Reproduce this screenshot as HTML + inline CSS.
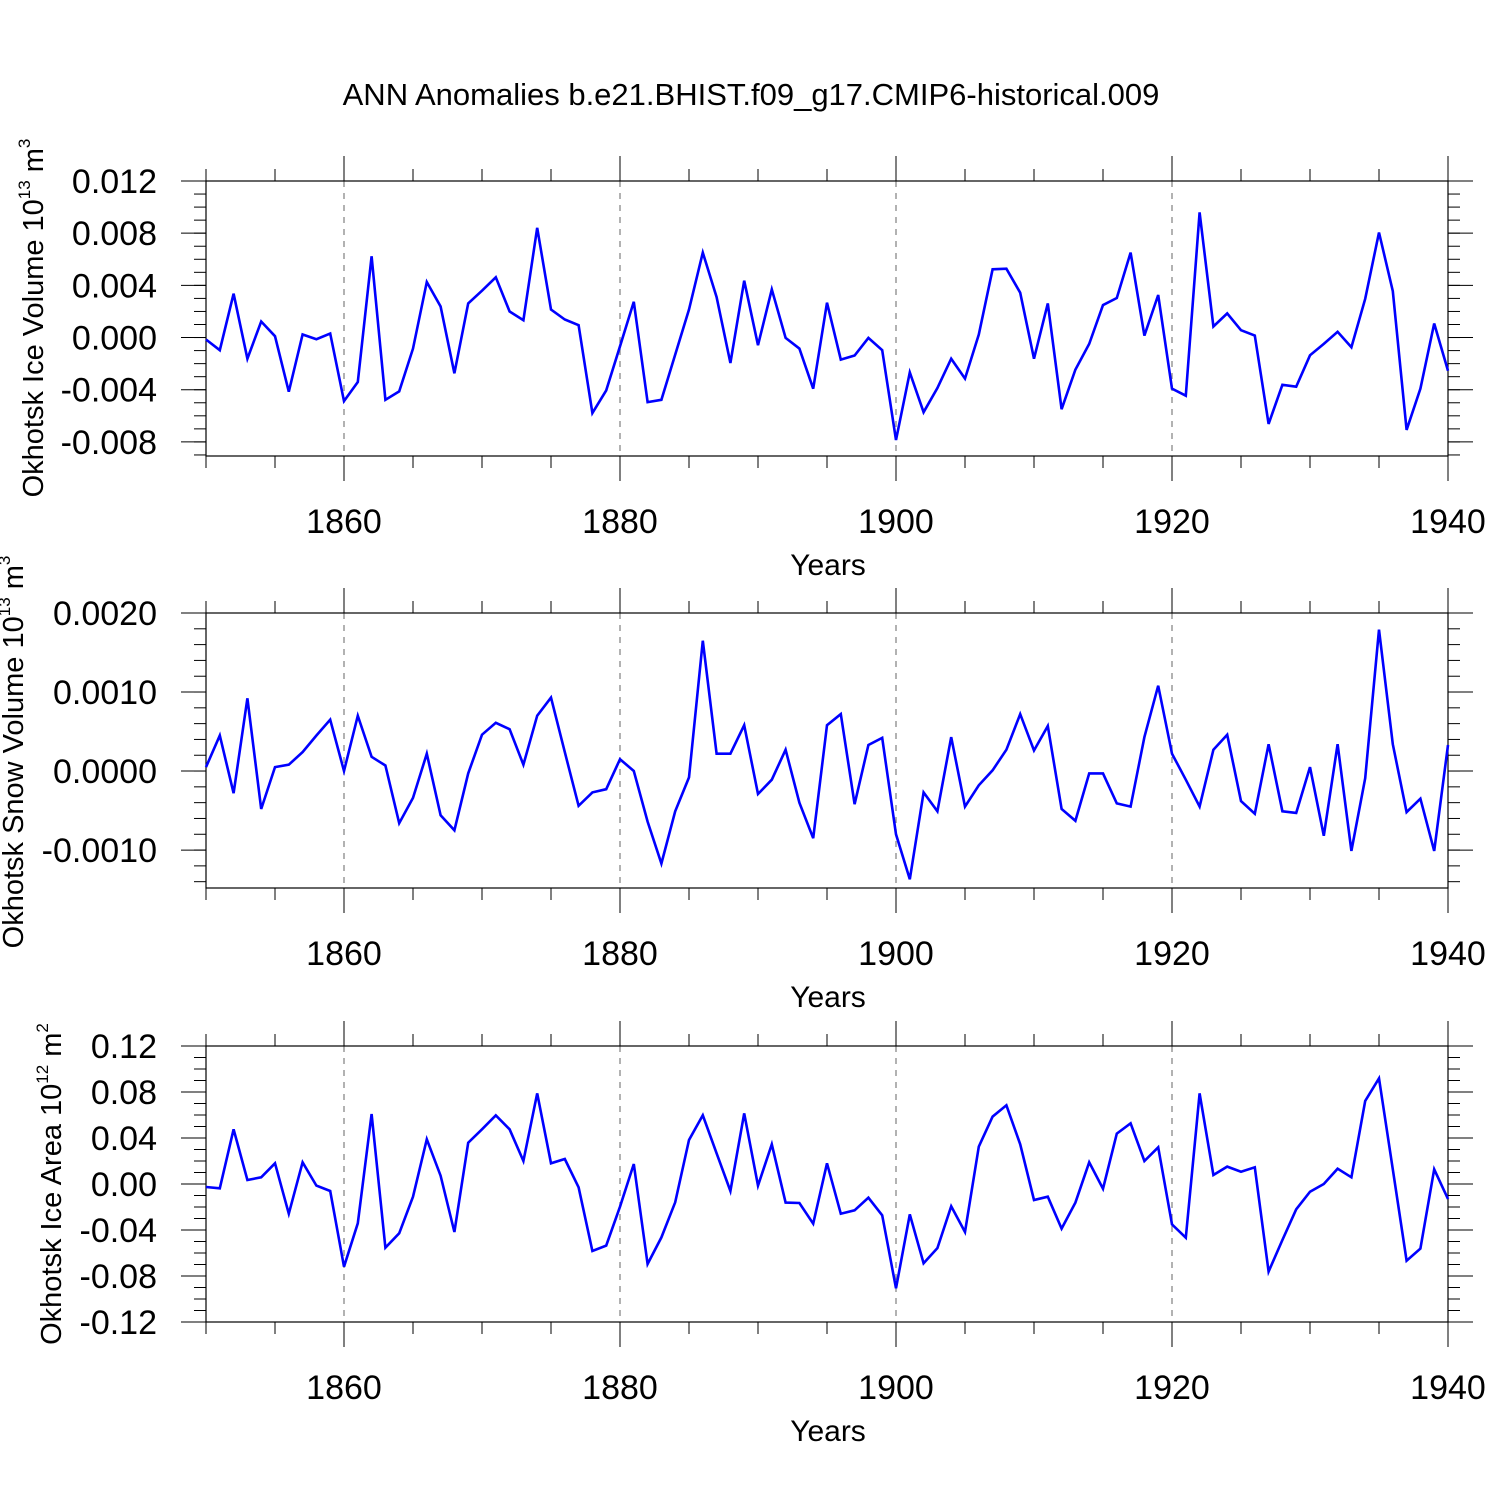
<!DOCTYPE html>
<html><head><meta charset="utf-8"><style>
html,body{margin:0;padding:0;background:#fff;}
svg{display:block;font-family:"Liberation Sans",Arial,sans-serif;}
</style></head><body>
<svg id="chart" width="1500" height="1500" viewBox="0 0 1500 1500" xmlns="http://www.w3.org/2000/svg">
<rect width="1500" height="1500" fill="#fff"/>
<text x="751" y="105" font-size="31" text-anchor="middle">ANN Anomalies b.e21.BHIST.f09_g17.CMIP6-historical.009</text>
<g id="plots"></g>
</svg>
<script>
const years = [];
for (let y = 1850; y <= 1940; y++) years.push(y);
const iceVolume = [-0.15,-0.97,3.36,-1.62,1.23,0.1,-4.15,0.23,-0.13,0.31,
-4.87,-3.41,6.23,-4.77,-4.13,-0.85,4.26,2.38,-2.74,2.62,
3.59,4.62,2.0,1.33,8.41,2.15,1.38,0.95,-5.79,-4.05,
-0.67,2.74,-4.95,-4.77,-1.31,2.15,6.51,3.1,-1.95,4.36,
-0.59,3.69,-0.03,-0.85,-3.92,2.67,-1.69,-1.38,-0.03,-0.97,
-7.85,-2.67,-5.72,-3.87,-1.62,-3.15,0.23,5.23,5.28,3.44,
-1.62,2.62,-5.49,-2.46,-0.49,2.49,3.03,6.51,0.15,3.26,
-3.92,-4.46,9.59,0.85,1.85,0.56,0.15,-6.62,-3.62,-3.77,
-1.36,-0.49,0.44,-0.74,2.97,8.05,3.56,-7.08,-3.92,1.08,-2.54].map(v=>v*0.001);
const snowVolume = [0.05,0.45,-0.28,0.92,-0.48,0.05,0.08,0.24,0.45,0.65,
0.0,0.7,0.18,0.07,-0.66,-0.34,0.22,-0.56,-0.75,-0.03,
0.46,0.61,0.53,0.08,0.7,0.93,0.24,-0.44,-0.27,-0.23,
0.15,0.0,-0.64,-1.17,-0.51,-0.08,1.65,0.22,0.22,0.58,
-0.29,-0.11,0.27,-0.4,-0.85,0.58,0.72,-0.42,0.33,0.42,
-0.8,-1.37,-0.27,-0.51,0.43,-0.45,-0.18,0.01,0.27,0.72,
0.26,0.57,-0.48,-0.63,-0.03,-0.03,-0.41,-0.45,0.43,1.08,
0.22,-0.11,-0.45,0.27,0.46,-0.38,-0.54,0.34,-0.51,-0.53,
0.05,-0.82,0.34,-1.01,-0.09,1.79,0.34,-0.52,-0.35,-1.01,0.33].map(v=>v*0.001);
const iceArea = [-0.0026,-0.0037,0.0476,0.0035,0.0058,0.018,-0.0258,0.0189,-0.0014,-0.0061,
-0.0719,-0.0342,0.0609,-0.0554,-0.0429,-0.011,0.0389,0.0072,-0.0417,0.0359,
0.0476,0.0597,0.0476,0.02,0.0788,0.018,0.0217,-0.0029,-0.0583,-0.0536,
-0.0197,0.0174,-0.0696,-0.0464,-0.0159,0.0383,0.0597,0.0267,-0.0061,0.0614,
-0.0014,0.0345,-0.0162,-0.0165,-0.0345,0.018,-0.0258,-0.0229,-0.0119,-0.0272,
-0.0907,-0.0264,-0.069,-0.0557,-0.0194,-0.0417,0.0325,0.0586,0.0684,0.0345,
-0.0139,-0.011,-0.0388,-0.0162,0.0189,-0.0041,0.0438,0.0528,0.02,0.0319,
-0.0351,-0.0467,0.0788,0.0078,0.0151,0.0107,0.0145,-0.0762,-0.0487,-0.022,
-0.0067,0.0,0.0133,0.0058,0.0722,0.0919,0.0128,-0.0667,-0.0562,0.0128,-0.013];
const xTickLabels = ["1860","1880","1900","1920","1940"];
const iceVolTicks = ["-0.008","-0.004","0.000","0.004","0.008","0.012"];
const snowTicks = ["-0.0010","0.0000","0.0010","0.0020"];
const areaTicks = ["-0.12","-0.08","-0.04","0.00","0.04","0.08","0.12"];

const NS = "http://www.w3.org/2000/svg";
const root = document.getElementById('plots');
const X0 = 206, X1 = 1448, YR0 = 1850, YR1 = 1940;
function xs(yr){ return X0 + (yr - YR0) / (YR1 - YR0) * (X1 - X0); }
function mk(tag, attrs, parent){
  const e = document.createElementNS(NS, tag);
  for (const k in attrs) e.setAttribute(k, attrs[k]);
  (parent || root).appendChild(e);
  return e;
}
function panel(cfg){
  const g = mk('g', {});
  
  
  const ys = v => cfg.bot - (v - cfg.ymin) / (cfg.ymax - cfg.ymin) * (cfg.bot - cfg.top);
  [1860,1880,1900,1920].forEach(yr => {
    const l = mk('line', {x1:xs(yr), x2:xs(yr), y1:cfg.top, y2:cfg.bot, stroke:'#888', 'stroke-width':1.3, 'stroke-dasharray':'6,6'}, g);
    
    
  });
  for (let yr = 1850; yr <= 1940; yr += 5) {
    const major = (yr % 20 === 0);
    const len = major ? 25 : 12;
    const x = xs(yr);
    mk('line', {x1:x, x2:x, y1:cfg.top, y2:cfg.top - len, stroke:'#000', 'stroke-width':1}, g);
    mk('line', {x1:x, x2:x, y1:cfg.bot, y2:cfg.bot + len, stroke:'#000', 'stroke-width':1}, g);
  }
  const nMinor = Math.round((cfg.ymax - cfg.ymin) / cfg.minor);
  for (let i = 0; i <= nMinor + 1; i++) {
    const v = cfg.minorStart + i * cfg.minor;
    if (v > cfg.ymax + 1e-9) break;
    if (v < cfg.ymin - 1e-9) continue;
    const y = ys(v);
    mk('line', {x1:X0, x2:X0 - 12, y1:y, y2:y, stroke:'#000', 'stroke-width':1}, g);
    mk('line', {x1:X1, x2:X1 + 12, y1:y, y2:y, stroke:'#000', 'stroke-width':1}, g);
  }
  cfg.ticks.forEach(lbl => {
    const v = parseFloat(lbl);
    const y = ys(v);
    mk('line', {x1:X0, x2:X0 - 25, y1:y, y2:y, stroke:'#000', 'stroke-width':1}, g);
    mk('line', {x1:X1, x2:X1 + 25, y1:y, y2:y, stroke:'#000', 'stroke-width':1}, g);
    const t = mk('text', {x:157, y:y + 12, 'font-size':34, 'text-anchor':'end'}, g);
    t.textContent = lbl;
    
    
  });
  xTickLabels.forEach(lbl => {
    const t = mk('text', {x:xs(+lbl), y:cfg.bot + 77, 'font-size':34, 'text-anchor':'middle'}, g);
    t.textContent = lbl;
    
    
  });
  const xt = mk('text', {x:828, y:cfg.bot + 119, 'font-size':30, 'text-anchor':'middle'}, g);
  xt.textContent = 'Years';
  
  
  const fr = mk('rect', {x:X0, y:cfg.top, width:X1 - X0, height:cfg.bot - cfg.top, fill:'none', stroke:'#000', 'stroke-width':1.2}, g);
  
  
  const pts = cfg.data.map((v, i) => xs(years[i]).toFixed(1) + ',' + ys(v).toFixed(1)).join(' ');
  const pl = mk('polyline', {points:pts, fill:'none', stroke:'#0000ff', 'stroke-width':2.6, 'stroke-linejoin':'miter'}, g);
  
  
  const yt = mk('text', {transform:'translate(' + cfg.ytx + ',' + cfg.yty + ') rotate(-90)', 'font-size':29, 'text-anchor':'middle'}, g);
  
  
  yt.innerHTML = cfg.ytitle + ' 10<tspan font-size="17" dy="-13">' + cfg.exp + '</tspan><tspan dy="13"> m</tspan><tspan font-size="17" dy="-13">' + cfg.unitExp + '</tspan>';
}
panel({name:'ice-volume-panel', top:181, bot:456, ymin:-0.00908, ymax:0.012, minor:0.001, minorStart:-0.009,
  ticks:iceVolTicks, data:iceVolume, ytitle:'Okhotsk Ice Volume', exp:'13', unitExp:'3', ytx:43, yty:318});
panel({name:'snow-volume-panel', top:613, bot:888, ymin:-0.00148, ymax:0.002, minor:0.0002, minorStart:-0.0014,
  ticks:snowTicks, data:snowVolume, ytitle:'Okhotsk Snow Volume', exp:'13', unitExp:'3', ytx:23, yty:752});
panel({name:'ice-area-panel', top:1046, bot:1322, ymin:-0.12, ymax:0.12, minor:0.01, minorStart:-0.12,
  ticks:areaTicks, data:iceArea, ytitle:'Okhotsk Ice Area', exp:'12', unitExp:'2', ytx:61, yty:1184});
</script>
</body></html>
